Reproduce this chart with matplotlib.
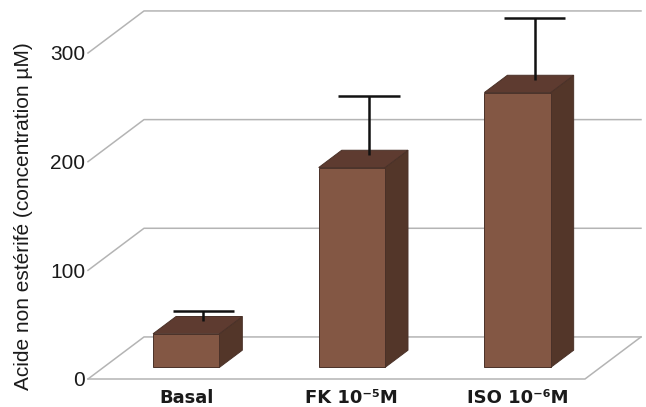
import matplotlib
matplotlib.use('Agg')
import matplotlib.pyplot as plt
from matplotlib.patches import Polygon

# data
categories = ['Basal', 'FK 10\u207b\u2075M', 'ISO 10\u207b\u2076M']
values = [31, 184, 253]
errors = [9, 54, 57]
yticks = [0, 100, 200, 300]

# oblique "3d" look: depth shifts points right and up
DX = 0.338      # in category units
DY = 38.7       # in value units
D_FRONT, D_BACK, D_ERR = 0.274, 0.685, 0.58
W = 0.4
CAP = 0.37

def proj(x, d, v):
    return (x + d * DX, v + d * DY)

fig = plt.figure(figsize=(6.46, 4.07), dpi=100)
ax = fig.add_axes([88 / 646, 28 / 407, 497 / 646, 326 / 407])
ax.set_xlim(-0.5, 2.5)
ax.set_ylim(0, 300)
for s in ax.spines.values():
    s.set_visible(False)

grid_kw = dict(color='#b4b4b4', lw=1.1, zorder=1, clip_on=False)
for v in yticks:
    p0, p1, p2 = proj(-0.5, 0, v), proj(-0.5, 1, v), proj(2.5, 1, v)
    ax.plot([p0[0], p1[0], p2[0]], [p0[1], p1[1], p2[1]], **grid_kw)
# floor front and right edges
f0, f1, f2 = proj(-0.5, 0, 0), proj(2.5, 0, 0), proj(2.5, 1, 0)
ax.plot([f0[0], f1[0], f2[0]], [f0[1], f1[1], f2[1]], **grid_kw)

edge = '#4a3128'
for i, (v, e) in enumerate(zip(values, errors)):
    l, r = i - W / 2, i + W / 2
    front = [proj(l, D_FRONT, 0), proj(r, D_FRONT, 0), proj(r, D_FRONT, v), proj(l, D_FRONT, v)]
    top = [proj(l, D_FRONT, v), proj(r, D_FRONT, v), proj(r, D_BACK, v), proj(l, D_BACK, v)]
    side = [proj(r, D_FRONT, 0), proj(r, D_BACK, 0), proj(r, D_BACK, v), proj(r, D_FRONT, v)]
    for pts, c in [(side, '#533629'), (top, '#5e3b30'), (front, '#835744')]:
        ax.add_patch(Polygon(pts, closed=True, facecolor=c, edgecolor=edge,
                             lw=0.7, zorder=3, clip_on=False))
    # error bar (upper only)
    b = proj(i, D_ERR, v)
    t = proj(i, D_ERR, v + e)
    ax.plot([b[0], t[0]], [b[1], t[1]], color='#111111', lw=1.8, zorder=4,
            clip_on=False, solid_capstyle='butt')
    cl, cr = proj(i - CAP / 2, D_ERR, v + e), proj(i + CAP / 2, D_ERR, v + e)
    ax.plot([cl[0], cr[0]], [cl[1], cr[1]], color='#111111', lw=1.8, zorder=4,
            clip_on=False, solid_capstyle='butt')

ax.set_yticks(yticks)
ax.set_yticklabels([str(t) for t in yticks], fontfamily='Liberation Sans',
                   fontsize=15, color='#1a1a1a')
ax.tick_params(axis='y', length=0, pad=2)

ax.set_xticks([i + D_FRONT * DX for i in range(len(categories))])
ax.set_xticklabels(categories, fontfamily='DejaVu Sans', fontweight='bold',
                   fontsize=13, color='#1a1a1a')
ax.tick_params(axis='x', length=0, pad=7)

ax.set_ylabel('Acide non estérifé (concentration µM)', fontfamily='Liberation Sans',
              fontsize=15, color='#1a1a1a', labelpad=12)

fig.savefig('out.png', dpi=100)
